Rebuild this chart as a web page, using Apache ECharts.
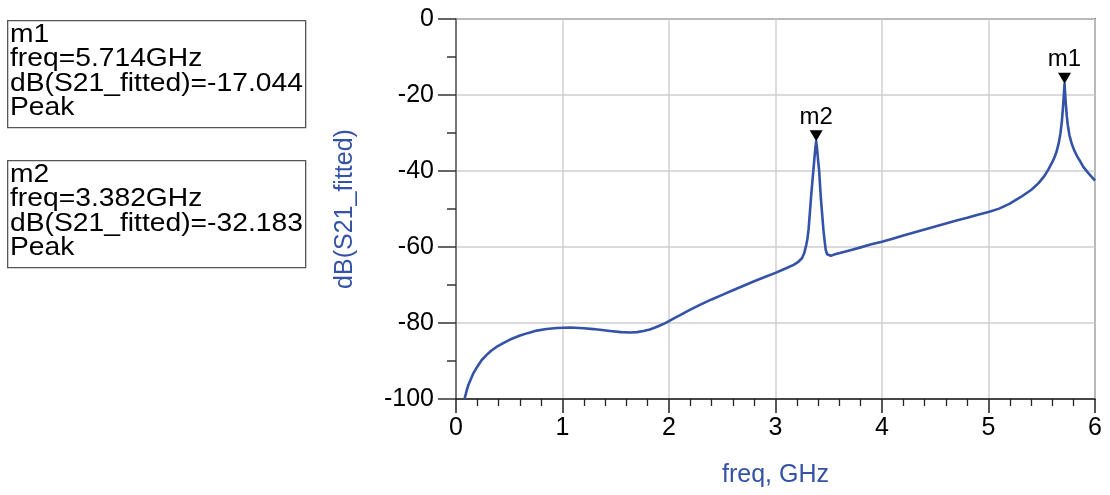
<!DOCTYPE html>
<html>
<head>
<meta charset="utf-8">
<script src="https://cdn.jsdelivr.net/npm/echarts@6/dist/echarts.min.js"></script>
<style>
html,body{margin:0;padding:0;background:#fff;}
#chart{width:1110px;height:495px;}
</style>
</head>
<body>
<div id="chart"></div>
<script>
// ---- data ----
const freqGHz = [0.08,0.09,0.10,0.115,0.131,0.16,0.2,0.24,0.288,0.33,0.38,0.444,0.52,0.601,0.68,0.758,0.85,0.95,1.07,1.20,1.29,1.37,1.446,1.55,1.634,1.70,1.76,1.82,1.87,1.92,1.96,2.00,2.05,2.1,2.2,2.3,2.4,2.5,2.6,2.7,2.8,2.9,3.0,3.1,3.17,3.21,3.25,3.27,3.29,3.30,3.31,3.32,3.334,3.345,3.355,3.365,3.375,3.382,3.39,3.40,3.41,3.425,3.44,3.45,3.462,3.472,3.485,3.50,3.52,3.55,3.64,3.72,3.80,3.90,4.00,4.1,4.2,4.3,4.4,4.5,4.6,4.7,4.8,4.9,5.0,5.1,5.2,5.3,5.4,5.47,5.52,5.56,5.60,5.62,5.64,5.66,5.675,5.688,5.698,5.706,5.714,5.725,5.735,5.745,5.76,5.78,5.804,5.83,5.86,5.89,5.93,5.96,6.0];
const dbS21 = [-100,-98.9,-97.8,-96.4,-95.3,-93.4,-91.5,-89.8,-88.4,-87.3,-86.3,-85.3,-84.2,-83.3,-82.6,-82.0,-81.6,-81.3,-81.2,-81.4,-81.6,-81.85,-82.1,-82.4,-82.5,-82.4,-82.1,-81.7,-81.2,-80.6,-80.1,-79.5,-78.7,-78.0,-76.5,-75.1,-73.8,-72.6,-71.4,-70.2,-69.0,-67.9,-66.8,-65.6,-64.7,-64.0,-62.9,-61.6,-59.3,-57.8,-55.5,-52.0,-46.8,-43.2,-40.0,-36.8,-33.8,-32.183,-34.0,-37.2,-40.0,-46.8,-52.0,-55.5,-58.6,-60.8,-61.9,-62.3,-62.3,-62.0,-61.3,-60.7,-60.1,-59.3,-58.6,-57.8,-57.0,-56.2,-55.4,-54.6,-53.8,-53.0,-52.3,-51.5,-50.8,-49.9,-48.6,-46.9,-45.0,-43.2,-41.5,-39.7,-37.6,-36.4,-34.8,-32.6,-30.2,-27.2,-23.8,-20.6,-17.044,-22.0,-25.5,-28.0,-30.6,-32.7,-34.5,-36.0,-37.4,-38.9,-40.3,-41.3,-42.5];
const markerNames = ['m1','m2'];
const markerFreq = [5.714, 3.382];
const markerValue = [-17.044, -32.183];
const markerType = ['Peak','Peak'];
const xTicks = [0,1,2,3,4,5,6];
const yTicks = [-100,-80,-60,-40,-20,0];

const blue = '#3352a8';
const FONT = '"Liberation Sans", Arial, sans-serif';
const lineData = freqGHz.map((f,i)=>[f, dbS21[i]]);
const markerData = markerNames.map((n,i)=>({name:n, value:[markerFreq[i], markerValue[i]]}));

function box(i, top){
  const txt = markerNames[i] + '\nfreq=' + markerFreq[i].toFixed(3) + 'GHz\ndB(S21_fitted)=' + markerValue[i].toFixed(3) + '\n' + markerType[i];
  return [
    {type:'rect', left:7, top:top, shape:{width:298, height:107}, style:{fill:'#fff', stroke:'#555', lineWidth:1.3}},
    {type:'text', x:10, y:top+3, scaleX:1.13, style:{text:txt, font:'25px ' + FONT, fill:'#000', lineHeight:24.3}}
  ];
}

const chart = echarts.init(document.getElementById('chart'), null, {renderer:'canvas'});
chart.setOption({
  animation:false,
  backgroundColor:'#fff',
  grid:{left:456, right:15, top:19, bottom:96, show:true, borderColor:'#777', borderWidth:2, backgroundColor:'transparent'},
  xAxis:{
    type:'value', min:0, max:6, interval:1,
    name:'freq, GHz', nameLocation:'middle', nameGap:64,
    nameTextStyle:{color:blue, fontSize:25, fontFamily:FONT},
    axisLine:{show:true, onZero:false, lineStyle:{color:'#222', width:1.5}},
    axisTick:{show:true, inside:false, length:14, lineStyle:{color:'#222', width:1.5}},
    minorTick:{show:true, splitNumber:5, length:7, lineStyle:{color:'#222', width:1.3}},
    axisLabel:{color:'#000', fontSize:25, fontFamily:FONT, margin:17,
      formatter:v=> xTicks.includes(v) ? String(v) : ''},
    splitLine:{show:true, lineStyle:{color:'#cfcfcf', width:1.5}}
  },
  yAxis:{
    type:'value', min:-100, max:0, interval:20,
    name:'dB(S21_fitted)', nameLocation:'middle', nameGap:98, nameRotate:90,
    nameTextStyle:{color:blue, fontSize:25, fontFamily:FONT},
    axisLine:{show:true, onZero:false, lineStyle:{color:'#777', width:2}},
    axisTick:{show:true, inside:false, length:18, lineStyle:{color:'#333', width:1.5}},
    minorTick:{show:true, splitNumber:2, length:9, lineStyle:{color:'#333', width:1.5}},
    axisLabel:{color:'#000', fontSize:25, fontFamily:FONT, margin:22,
      formatter:v=> yTicks.includes(v) ? String(v) : ''},
    splitLine:{show:true, lineStyle:{color:'#cfcfcf', width:1.5}}
  },
  series:[
    {type:'line', data:lineData, showSymbol:false, smooth:false,
     lineStyle:{color:blue, width:2.6, join:'round'}, z:3},
    {type:'scatter', data:markerData, symbol:'triangle', symbolRotate:180, symbolSize:[13,11], symbolOffset:[0,-5.5],
     itemStyle:{color:'#000', opacity:1}, z:5,
     label:{show:true, position:'top', distance:1, formatter:p=>p.name, color:'#000', fontSize:24,
       fontFamily:FONT, textBorderWidth:0, opacity:1}}
  ],
  graphic: box(0, 20).concat(box(1, 160))
});
</script>
</body>
</html>
